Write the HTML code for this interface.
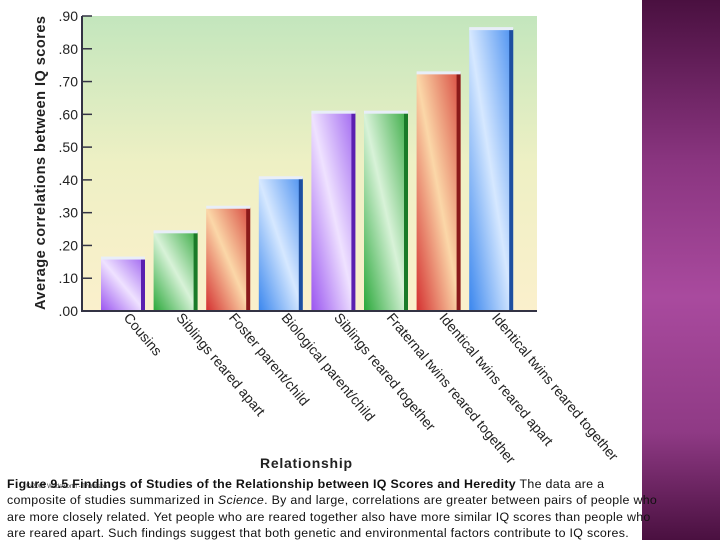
<!DOCTYPE html>
<html><head><meta charset="utf-8"><style>
body{margin:0;width:720px;height:540px;overflow:hidden;background:#fff;font-family:"Liberation Sans",sans-serif;position:relative}
#side{position:absolute;left:642px;top:0;width:78px;height:540px;background:linear-gradient(180deg,#4a1040 0%,#8a3580 30%,#a94a9e 55%,#8f3a85 80%,#4a1040 100%)}
#cap{position:absolute;left:7px;top:476px;width:710px;font-size:12.4px;line-height:16.3px;color:#111;z-index:2;white-space:nowrap;letter-spacing:0.3px}
#copy{position:absolute;left:26px;top:484px;font-size:6px;color:#333;z-index:3}
</style></head><body>
<div id="side"></div>
<svg id="chart" width="642" height="475" style="position:absolute;left:0;top:0">
<defs>
<linearGradient id="bg" x1="0" y1="0" x2="0" y2="1"><stop offset="0" stop-color="#c3e6bd"/><stop offset="0.5" stop-color="#eef0c4"/><stop offset="1" stop-color="#fbf0cc"/></linearGradient>
<linearGradient id="g0" x1="0" y1="1" x2="1" y2="0"><stop offset="0" stop-color="#9a55f0"/><stop offset="0.5" stop-color="#efe2ff"/><stop offset="1" stop-color="#a066f0"/></linearGradient>
<linearGradient id="g1" x1="0" y1="1" x2="1" y2="0"><stop offset="0" stop-color="#2aa83a"/><stop offset="0.5" stop-color="#d8f2d8"/><stop offset="1" stop-color="#3aac45"/></linearGradient>
<linearGradient id="g2" x1="0" y1="1" x2="1" y2="0"><stop offset="0" stop-color="#d43030"/><stop offset="0.5" stop-color="#fbd7a8"/><stop offset="1" stop-color="#d84a40"/></linearGradient>
<linearGradient id="g3" x1="0" y1="1" x2="1" y2="0"><stop offset="0" stop-color="#3a86ee"/><stop offset="0.5" stop-color="#d6e8ff"/><stop offset="1" stop-color="#4a90f0"/></linearGradient>
</defs>
<rect x="82" y="16" width="455" height="295" fill="url(#bg)"/>
<g id="bars"></g><g id="axis"></g><g id="labels"></g>
<text x="0" y="0" transform="translate(45,163) rotate(-90)" text-anchor="middle" font-weight="bold" font-size="14.5" fill="#222" textLength="294" lengthAdjust="spacing">Average correlations between IQ scores</text>
<text x="306" y="468" text-anchor="middle" font-weight="bold" font-size="14" fill="#222" textLength="92">Relationship</text>
</svg>
<div id="copy">© 2005 Wadsworth - Thomson</div>
<div id="cap"><b>Figure 9.5 Findings of Studies of the Relationship between IQ Scores and Heredity</b> The data are a<br>composite of studies summarized in <i>Science</i>. By and large, correlations are greater between pairs of people who<br>are more closely related. Yet people who are reared together also have more similar IQ scores than people who<br>are reared apart. Such findings suggest that both genetic and environmental factors contribute to IQ scores.</div>
<script>
const categories=["Cousins","Siblings reared apart","Foster parent/child","Biological parent/child","Siblings reared together","Fraternal twins reared together","Identical twins reared apart","Identical twins reared together"];
const values=[0.16,0.24,0.315,0.405,0.605,0.605,0.725,0.86];
const ticks=[0,0.1,0.2,0.3,0.4,0.5,0.6,0.7,0.8,0.9];
const tickLabels=[".00",".10",".20",".30",".40",".50",".60",".70",".80",".90"];
const dark=["#5a20b0","#1a7a28","#8a1a1a","#1d4fa0"];
const NS="http://www.w3.org/2000/svg";
const y=v=>311-v/0.9*295;
const x=i=>101+i*52.6;
const bw=44;
function mk(t,a){const e=document.createElementNS(NS,t);for(const k in a)e.setAttribute(k,a[k]);return e;}
const bars=document.getElementById('bars'),axis=document.getElementById('axis'),labels=document.getElementById('labels');
values.forEach((v,i)=>{
 const c=i%4;
 const r=mk('rect',{x:x(i),y:y(v),width:bw,height:311-y(v),fill:`url(#g${c})`});
 
 
 bars.appendChild(r);
 const s=mk('rect',{x:x(i)+bw-4,y:y(v),width:4,height:311-y(v),fill:dark[c]});
 
 
 bars.appendChild(s);
 const tp=mk('rect',{x:x(i),y:y(v)-2,width:bw,height:3,fill:'#e8eef8'});
 
 
 bars.appendChild(tp);
 const lx=x(i)+22,ly=318;
 const t=mk('text',{x:0,y:0,transform:`translate(${lx},${ly}) rotate(50)`,'font-size':14,fill:'#222'});
 t.textContent=categories[i];
 
 
 labels.appendChild(t);
});
ticks.forEach((v,i)=>{
 const l=mk('line',{x1:82,x2:92,y1:y(v),y2:y(v),stroke:'#334',"stroke-width":1.5});
 
 
 axis.appendChild(l);
 const t=mk('text',{x:78,y:y(v)+5,'text-anchor':'end','font-size':14,fill:'#222'});
 t.textContent=tickLabels[i];
 
 
 axis.appendChild(t);
});
const ax=mk('path',{d:'M82 16 V311 H537',fill:'none',stroke:'#334',"stroke-width":2});


axis.appendChild(ax);
</script>
</body></html>
